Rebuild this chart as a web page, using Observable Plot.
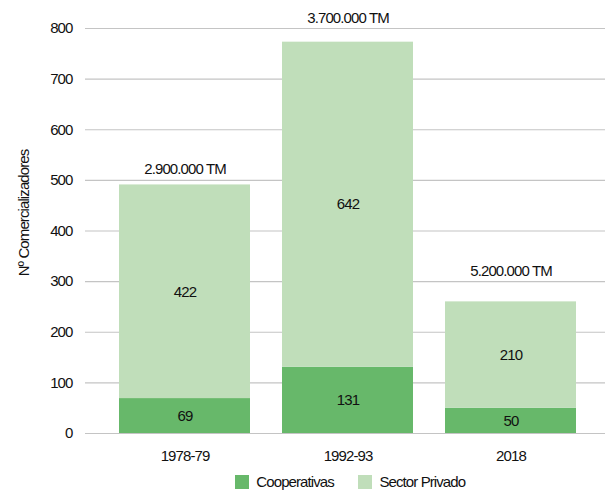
<!DOCTYPE html>
<html>
<head>
<meta charset="utf-8">
<script src="https://cdn.jsdelivr.net/npm/d3@7"></script>
<script src="https://cdn.jsdelivr.net/npm/@observablehq/plot@0.6"></script>
<style>
  body { margin: 0; background: #fff; }
  #chart { width: 606px; font-family: "Liberation Sans", Arial, sans-serif; }
  #chart svg text { letter-spacing: -0.9px; }
  #legend { display: flex; justify-content: center; margin-top: -5px; padding-left: 118px; height: 26px; overflow: visible; }
  #legend span, #legend div { letter-spacing: -0.9px; }
  #legend span { margin-right: 24px !important; }
</style>
</head>
<body>
<div id="chart"></div>
<script>
const periods = ["1978-79", "1992-93", "2018"];
const series = ["Cooperativas", "Sector Privado"];
const cooperativas = [69, 131, 50];
const sectorPrivado = [422, 642, 210];
const volumes = ["2.900.000 TM", "3.700.000 TM", "5.200.000 TM"];
const yTicks = [0, 100, 200, 300, 400, 500, 600, 700, 800];
const colors = ["#67b86a", "#c0deba"];

const rows = [];
periods.forEach((p, i) => {
  rows.push({period: p, series: series[0], value: cooperativas[i]});
  rows.push({period: p, series: series[1], value: sectorPrivado[i]});
});
const totals = periods.map((p, i) => ({period: p, total: cooperativas[i] + sectorPrivado[i], label: volumes[i]}));
const labelDy = [-16, -24, -31];

const font = "Liberation Sans, Arial, sans-serif";

const chart = Plot.plot({
  width: 606,
  height: 470,
  marginLeft: 85,
  marginRight: 1,
  marginTop: 28,
  marginBottom: 37,
  style: {fontFamily: font, fontSize: "15px", color: "#111", background: "#fff"},
  x: {domain: periods, paddingInner: 0.196, paddingOuter: 0.193, align: 0.54, label: null, tickSize: 0, tickPadding: 17},
  y: {domain: [0, 800], ticks: yTicks, label: null, tickSize: 0, tickPadding: 13},
  color: {domain: series, range: colors},
  marks: [
    Plot.ruleY(yTicks, {stroke: "#c4c4c4", strokeWidth: 1.2}),
    Plot.barY(rows, {x: "period", y: "value", fill: "series", order: series}),
    Plot.text(rows, Plot.stackY({x: "period", y: "value", z: "series", order: series, text: d => String(d.value), fill: "#111", fontSize: 15})),
    ...totals.map((t, i) => Plot.text([t], {x: "period", y: "total", text: "label", dy: labelDy[i], fill: "#111", fontSize: 15})),
    Plot.axisX({tickSize: 0, tickPadding: 17, fontSize: 15}),
    Plot.axisY({ticks: yTicks, tickSize: 0, tickPadding: 13, fontSize: 15}),
    Plot.text(["Nº Comercializadores"], {frameAnchor: "left", textAnchor: "middle", dx: -61, dy: -18, rotate: -90, text: d => d, fontSize: 15, fill: "#111"})
  ]
});

document.getElementById("chart").appendChild(chart);

const legend = Plot.legend({
  color: {domain: series, range: colors},
  legend: "swatches",
  swatchSize: 14,
  style: {fontFamily: font, fontSize: "15px", color: "#111", letterSpacing: "-0.9px"}
});
const ld = document.createElement("div");
ld.id = "legend";
ld.appendChild(legend);
document.getElementById("chart").appendChild(ld);
</script>
</body>
</html>
